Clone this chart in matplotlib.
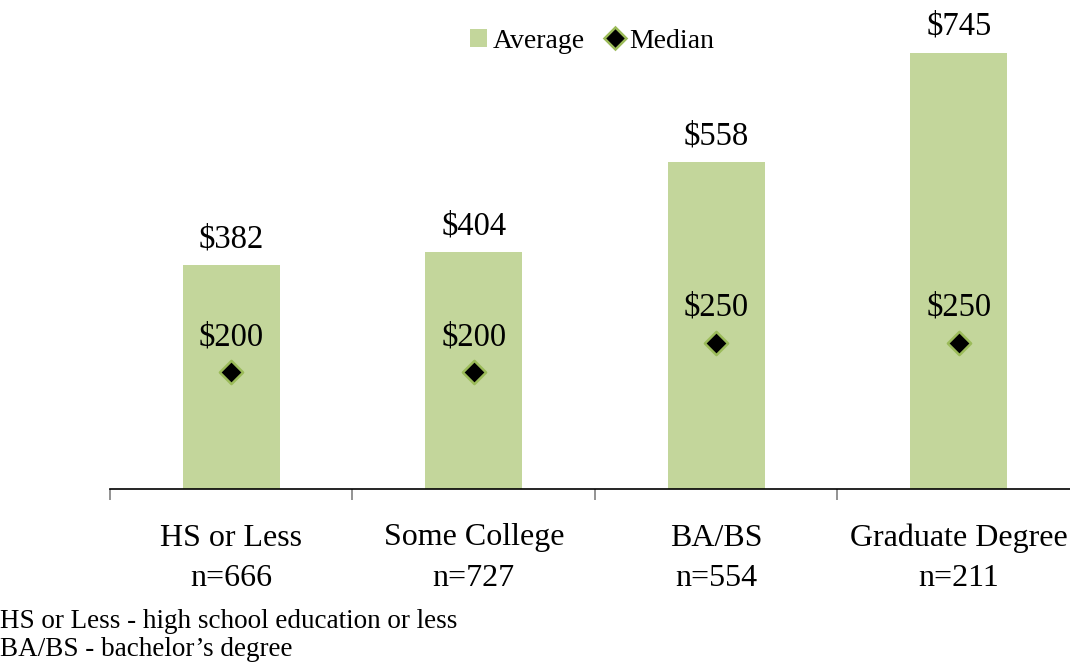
import matplotlib.pyplot as plt
import numpy as np
from matplotlib.lines import Line2D
from matplotlib.patches import Patch

categories = ["HS or Less", "Some College", "BA/BS", "Graduate Degree"]
counts = ["n=666", "n=727", "n=554", "n=211"]
average = [382, 404, 558, 745]
median = [200, 200, 250, 250]
notes = ["HS or Less - high school education or less",
         "BA/BS - bachelor\u2019s degree"]

plt.rcParams['font.family'] = ['Liberation Serif', 'DejaVu Serif']

bar_col = '#C3D69B'
edge_col = '#9BBB59'

fig = plt.figure(figsize=(10.7, 6.62), dpi=100)
W, H = 1070., 662.
ax = fig.add_axes([110 / W, 1 - 489 / H, 970 / W, 489 / H])

x = np.arange(len(categories))
ax.bar(x, average, width=0.4, color=bar_col, zorder=1)
ax.scatter(x, median, marker='D', s=140, color='black', edgecolor=edge_col,
           linewidth=1.8, zorder=3)

for xi, a, m in zip(x, average, median):
    ax.annotate("$%d" % a, (xi, a), xytext=(0, 26), textcoords='offset pixels',
                ha='center', va='center', fontsize=23.5)
    ax.annotate("$%d" % m, (xi, m), xytext=(0, 35), textcoords='offset pixels',
                ha='center', va='center', fontsize=23.5)

ax.set_xlim(-0.5, 3.5)
ax.set_ylim(0, 835)
ax.set_xticks(np.arange(-0.5, 4, 1))
ax.set_xticklabels([])
ax.tick_params(axis='x', length=8, width=1.2, color='#808080', direction='out')
ax.set_yticks([])
for s in ['top', 'right', 'left']:
    ax.spines[s].set_visible(False)
ax.spines['bottom'].set_color('black')
ax.spines['bottom'].set_linewidth(1.2)

for xi, c, n in zip(x, categories, counts):
    px = (110 + (xi + 0.5) * 242.5) / W
    fig.text(px, 1 - 538 / H, c, ha='center', va='center', fontsize=23)
    fig.text(px, 1 - 578 / H, n, ha='center', va='center', fontsize=23)

fig.text(0, 1 - 621 / H, notes[0], ha='left', va='center', fontsize=19.5)
fig.text(0, 1 - 650 / H, notes[1], ha='left', va='center', fontsize=19.5)

handles = [Patch(facecolor=bar_col, edgecolor='none'),
           Line2D([], [], marker='D', color='black', markeredgecolor=edge_col,
                  markeredgewidth=1.8, markersize=11, linestyle='none')]
fig.legend(handles, ["Average", "Median"], loc='center', ncol=2,
           bbox_to_anchor=(592 / W, 1 - 41 / H), frameon=False, fontsize=20,
           handlelength=0.6, handleheight=0.6, handletextpad=0.2,
           columnspacing=0.8, borderpad=0, borderaxespad=0)

fig.savefig('out.png', dpi=100)
